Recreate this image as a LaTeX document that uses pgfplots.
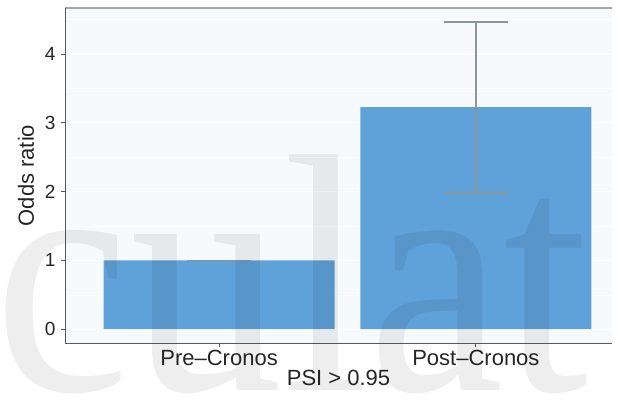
\documentclass[border=0pt]{standalone}
\usepackage{pgfplots}
\pgfplotsset{compat=1.18}
\usepackage{fontspec}
\setmainfont{Liberation Sans}
\newfontfamily\wmfont{Liberation Serif}
\definecolor{barblue}{RGB}{95,161,217}
\definecolor{errgray}{RGB}{138,150,155}
\definecolor{panelbg}{RGB}{246,250,253}
\definecolor{axisdark}{RGB}{85,90,92}
\definecolor{framegray}{RGB}{160,168,170}
\begin{document}
\begin{tikzpicture}
\begin{axis}[
  at={(65bp,62bp)}, anchor=south west,
  scale only axis, width=547bp, height=335bp,
  xmin=0.4, xmax=2.53, ymin=-0.2, ymax=4.67,
  xtick={1,2}, xticklabels={Pre--Cronos, Post--Cronos},
  ytick={0,1,2,3,4},
  minor ytick={0.5,1.5,2.5,3.5,4.5},
  minor tick length=0pt,
  xtick pos=lower, ytick pos=left,
  tick align=outside, major tick length=4bp,
  tick style={axisdark, line width=0.8bp},
  axis line style={draw=none},
  axis background/.style={fill=panelbg},
  ymajorgrids, yminorgrids,
  major grid style={white, line width=1.2bp},
  minor grid style={white, line width=0.6bp},
  /pgf/number format/assume math mode=true,
  yticklabel style={font=\fontsize{19bp}{22bp}\selectfont, text=black!85, xshift=-2bp},
  xticklabel style={font=\fontsize{22bp}{26bp}\selectfont, text=black!85},
  xlabel={PSI > 0.95},
  ylabel={Odds ratio},
  xlabel style={font=\fontsize{22bp}{26bp}\selectfont, text=black!85, yshift=3bp},
  ylabel style={font=\fontsize{22bp}{26bp}\selectfont, text=black!85, yshift=4bp},
  clip=false,
]
\addplot[ybar, bar width=0.9, fill=barblue, draw=none,
  error bars/.cd, y dir=both, y explicit,
  error mark=|,
  error bar style={errgray, line width=1.6bp},
  error mark options={errgray, line width=1.6bp, mark size=32bp}]
  coordinates {(1,1) +- (0,0) (2,3.23) += (0,1.24) -= (0,1.25)};
\draw[framegray, line width=1.6bp] (rel axis cs:0,1) -- (rel axis cs:1,1);
\draw[axisdark, line width=1bp] (rel axis cs:0,1) -- (rel axis cs:0,0) -- (rel axis cs:1,0);
\end{axis}
\node[anchor=base west, font=\wmfont\fontsize{340bp}{340bp}\selectfont, text=black, opacity=0.065, inner sep=0pt, xscale=0.9] at (-6bp,15bp) {culat};
\pgfresetboundingbox
\path[use as bounding box] (0,0) rectangle (618bp,405bp);
\end{tikzpicture}
\end{document}
